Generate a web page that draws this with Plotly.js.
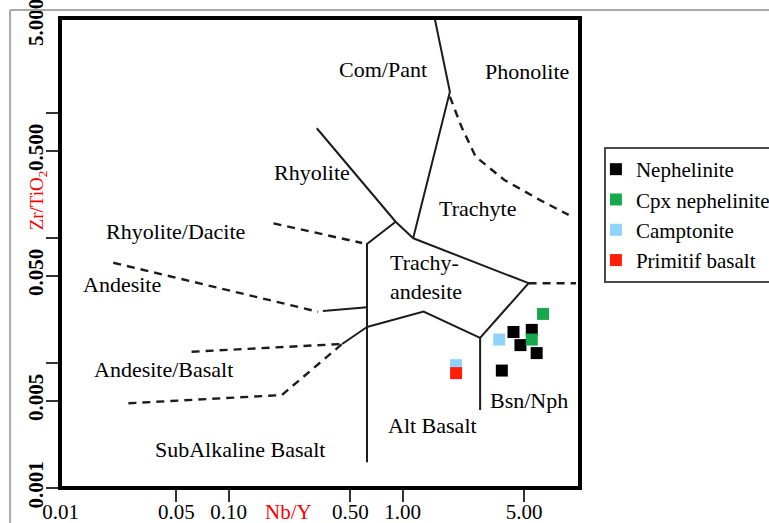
<!DOCTYPE html>
<html><head><meta charset="utf-8">
<script src="https://cdn.plot.ly/plotly-3.0.1.min.js"></script>
<style>html,body{margin:0;padding:0;background:#fff}</style>
</head><body><div id="chart" style="width:769px;height:523px"></div>
<script>
// ---- sample data (Nb/Y, Zr/TiO2) ----
const nephX = [4.34, 5.53, 4.76, 5.90, 3.72];
const nephY = [0.0177, 0.0184, 0.0139, 0.0120, 0.0087];
const cpxX = [6.42, 5.53];
const cpxY = [0.0247, 0.0154];
const campX = [3.59, 2.03];
const campY = [0.0154, 0.0096];
const primX = [2.03];
const primY = [0.0083];

// ---- field boundaries (solid) ----
const comPantX = [1.53, 1.87, 1.15];
const comPantY = [5.7, 1.48, 0.0995];
const rhyoliteX = [0.321, 0.912, 1.15];
const rhyoliteY = [0.755, 0.135, 0.0995];
const subAlkX = [0.912, 0.624, 0.624];
const subAlkY = [0.135, 0.0895, 0.00161];
const trachyteX = [1.15, 5.30, 2.79, 2.79];
const trachyteY = [0.0995, 0.0435, 0.0159, 0.00421];
const taBaseX = [0.624, 1.32, 2.79];
const taBaseY = [0.0194, 0.0258, 0.0159];
const andSolidX = [0.348, 0.624];
const andSolidY = [0.0261, 0.0279];
const abSolidX = [0.449, 0.624];
const abSolidY = [0.0142, 0.0194];
// ---- field boundaries (dashed) ----
const phonDashX = [1.87, 2.18, 2.63, 3.85, 6.17, 9.01];
const phonDashY = [1.35, 0.776, 0.447, 0.291, 0.201, 0.153];
const rdDashX = [0.181, 0.585];
const rdDashY = [0.131, 0.0912];
const andDashX = [0.0217, 0.327];
const andDashY = [0.0634, 0.0257];
const abUpperX = [0.0612, 0.449];
const abUpperY = [0.0123, 0.0142];
const abLowerX = [0.0265, 0.202, 0.449];
const abLowerY = [0.00476, 0.00554, 0.0142];
const bsnDashX = [5.30, 9.94];
const bsnDashY = [0.0435, 0.0435];

// ---- axis ticks ----
const xLabelVals = [0.0108, 0.05, 0.1, 0.5, 1, 5];
const xLabelText = ['0.01', '0.05', '0.10', '0.50', '1.00', '5.00'];
const xTickVals = [0.05, 0.1, 0.5, 1, 5];
const yLabelVals = [0.001, 0.005, 0.05, 0.5, 5];
const yLabelText = ['0.001', '0.005', '0.050', '0.500', '5.000'];
const yTickVals = [0.001, 0.005, 0.01, 0.05, 0.1, 0.5, 1];

// ---- field names ----
const fieldNames = ['Com/Pant', 'Phonolite', 'Rhyolite', 'Trachyte', 'Rhyolite/Dacite',
  'Trachy-<br>andesite', 'Andesite', 'Andesite/Basalt', 'Bsn/Nph', 'Alt Basalt', 'SubAlkaline Basalt'];
const fieldPos = [[0.6212,0.8894],[0.8990,0.8872],[0.4846,0.6713],[0.8038,0.5957],[0.2212,0.5468],
  [0.6308,0.4489],[0.1192,0.4340],[0.1990,0.2511],[0.9019,0.1862],[0.7154,0.1340],[0.3462,0.0809]];

const serif = 'Liberation Serif, Times New Roman, serif';
const traces = [];
function line(x, y, dashed) {
  traces.push({x: x, y: y, type: 'scatter', mode: 'lines', showlegend: false, hoverinfo: 'skip',
    line: {color: '#1c1c1c', width: dashed ? 2.4 : 2, dash: dashed ? '8px,6px' : 'solid'}});
}
[[comPantX, comPantY], [rhyoliteX, rhyoliteY], [subAlkX, subAlkY], [trachyteX, trachyteY],
 [taBaseX, taBaseY], [andSolidX, andSolidY], [abSolidX, abSolidY]].forEach(p => line(p[0], p[1], false));
[[phonDashX, phonDashY], [rdDashX, rdDashY], [andDashX, andDashY], [abUpperX, abUpperY],
 [abLowerX, abLowerY], [bsnDashX, bsnDashY]].forEach(p => line(p[0], p[1], true));

function pts(name, x, y, color) {
  traces.push({name: name, x: x, y: y, type: 'scatter', mode: 'markers',
    marker: {symbol: 'square', size: 12, color: color, line: {width: 0}}});
}
pts('Nephelinite', nephX, nephY, '#000000');
pts('Cpx nephelinite', cpxX, cpxY, '#17a84b');
pts('Camptonite', campX, campY, '#8fd4f8');
pts('Primitif basalt', primX, primY, '#ff1e0a');

const annotations = fieldNames.map((t, i) => ({
  text: t, xref: 'paper', yref: 'paper', x: fieldPos[i][0], y: fieldPos[i][1],
  xanchor: i === 5 ? 'left' : 'center', yanchor: 'middle', align: 'left', showarrow: false,
  font: {family: serif, size: 22, color: '#000'}
}));
annotations.push({text: 'Zr/TiO<sub>2</sub>', xref: 'paper', yref: 'paper', x: -0.0423, y: 0.612,
  textangle: -90, showarrow: false, xanchor: 'center', yanchor: 'middle',
  font: {family: serif, size: 19, color: '#ff0000'}});
annotations.push({text: 'Nb/Y', xref: 'paper', yref: 'paper', x: 0.4385, y: -0.0511,
  showarrow: false, xanchor: 'center', yanchor: 'middle',
  font: {family: serif, size: 21, color: '#ff0000'}});

const layout = {
  width: 769, height: 523,
  margin: {l: 60, r: 189, t: 18, b: 35, autoexpand: false},
  paper_bgcolor: '#fff', plot_bgcolor: '#fff',
  showlegend: true,
  legend: {x: 1.046, y: 0.7255, xanchor: 'left', yanchor: 'top', bgcolor: '#fff',
    bordercolor: '#4a4a4a', borderwidth: 2, font: {family: serif, size: 21, color: '#000'},
    indentation: -10, itemwidth: 30, tracegroupgap: 0},
  xaxis: {type: 'log', range: [-1.97, 1.02], showgrid: false, zeroline: false, showline: false,
    tickmode: 'array', tickvals: xLabelVals, ticktext: xLabelText, ticks: '',
    ticklabelstandoff: 9, ticklabeloverflow: 'allow', tickfont: {family: serif, size: 21, color: '#000'},
    minor: {tickmode: 'array', tickvals: xTickVals, ticks: 'outside', ticklen: 13, tickwidth: 2, tickcolor: '#333', showgrid: false}},
  yaxis: {type: 'log', range: [-3, 0.76], showgrid: false, zeroline: false, showline: false,
    tickmode: 'array', tickvals: yLabelVals, ticktext: yLabelText, ticks: '', tickangle: -90,
    ticklabelstandoff: 12, ticklabeloverflow: 'allow', tickfont: {family: serif, size: 21, color: '#000', weight: 'bold'},
    minor: {tickmode: 'array', tickvals: yTickVals, ticks: 'outside', ticklen: 13, tickwidth: 2, tickcolor: '#333', showgrid: false}},
  shapes: [
    {type: 'rect', xref: 'paper', yref: 'paper', x0: 0, x1: 1, y0: 0, y1: 1, line: {color: '#000', width: 4}, layer: 'above'},
    {type: 'line', xref: 'paper', yref: 'paper', x0: -0.096, x1: 1.4, y0: 1.017, y1: 1.017, line: {color: '#aaaaaa', width: 2}},
    {type: 'line', xref: 'paper', yref: 'paper', x0: -0.096, x1: -0.096, y0: 1.017, y1: -0.1, line: {color: '#aaaaaa', width: 2}}
  ],
  annotations: annotations
};
Plotly.newPlot('chart', traces, layout, {displayModeBar: false, staticPlot: true});
</script></body></html>
